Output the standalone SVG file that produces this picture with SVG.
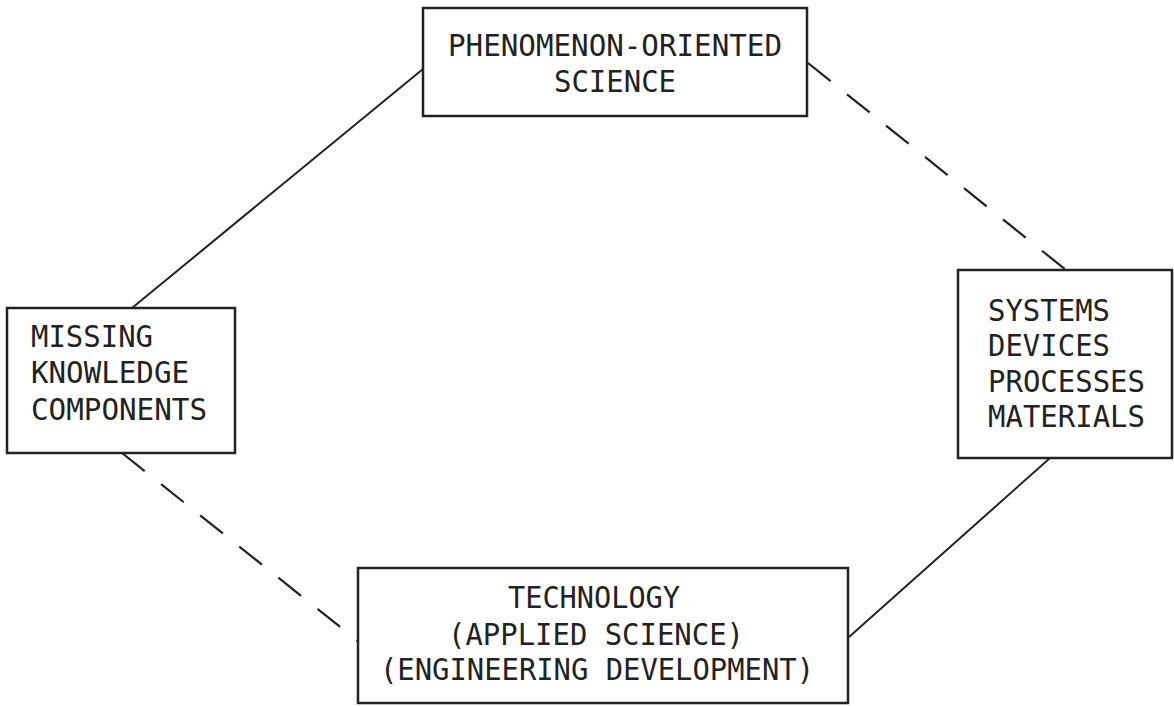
<svg xmlns="http://www.w3.org/2000/svg" width="1174" height="706" viewBox="0 0 1174 706">
<style>
.box{fill:#fff;stroke:#222;stroke-width:2.5}
.t{font-family:"DejaVu Sans Mono","Liberation Mono",monospace;font-size:31px;fill:#222}
.c{text-anchor:middle}
.solid{stroke:#222;stroke-width:2;fill:none}
.dash{stroke:#222;stroke-width:2.2;fill:none;stroke-dasharray:29 21}
</style>
<rect width="1174" height="706" fill="#fff"/>
<g id="connectors">
<line class="solid" x1="423" y1="69" x2="132" y2="308"/>
<line class="dash" x1="808" y1="63" x2="1066" y2="270"/>
<line class="solid" x1="1050" y1="458" x2="849" y2="637"/>
<line class="dash" x1="122" y1="453" x2="359" y2="642"/>
</g>
<g id="node-science">
<rect class="box" x="423" y="8" width="384" height="108"/>
<text class="t c" x="615" y="56" textLength="334" lengthAdjust="spacingAndGlyphs">PHENOMENON-ORIENTED</text>
<text class="t c" x="615" y="92" textLength="122" lengthAdjust="spacingAndGlyphs">SCIENCE</text>
</g>
<g id="node-missing">
<rect class="box" x="7" y="308" width="228" height="145"/>
<text class="t" x="31" y="347" textLength="122" lengthAdjust="spacingAndGlyphs">MISSING</text>
<text class="t" x="31" y="383" textLength="158" lengthAdjust="spacingAndGlyphs">KNOWLEDGE</text>
<text class="t" x="31" y="420" textLength="176" lengthAdjust="spacingAndGlyphs">COMPONENTS</text>
</g>
<g id="node-systems">
<rect class="box" x="958" y="270" width="214" height="188"/>
<text class="t" x="988" y="321" textLength="122" lengthAdjust="spacingAndGlyphs">SYSTEMS</text>
<text class="t" x="988" y="356" textLength="122" lengthAdjust="spacingAndGlyphs">DEVICES</text>
<text class="t" x="988" y="392" textLength="157" lengthAdjust="spacingAndGlyphs">PROCESSES</text>
<text class="t" x="988" y="427" textLength="157" lengthAdjust="spacingAndGlyphs">MATERIALS</text>
</g>
<g id="node-technology">
<rect class="box" x="358" y="568" width="490" height="135"/>
<text class="t c" x="594" y="608" textLength="172" lengthAdjust="spacingAndGlyphs">TECHNOLOGY</text>
<text class="t c" x="596" y="645" textLength="296" lengthAdjust="spacingAndGlyphs">(APPLIED SCIENCE)</text>
<text class="t c" x="597" y="680" textLength="434" lengthAdjust="spacingAndGlyphs">(ENGINEERING DEVELOPMENT)</text>
</g>
</svg>
